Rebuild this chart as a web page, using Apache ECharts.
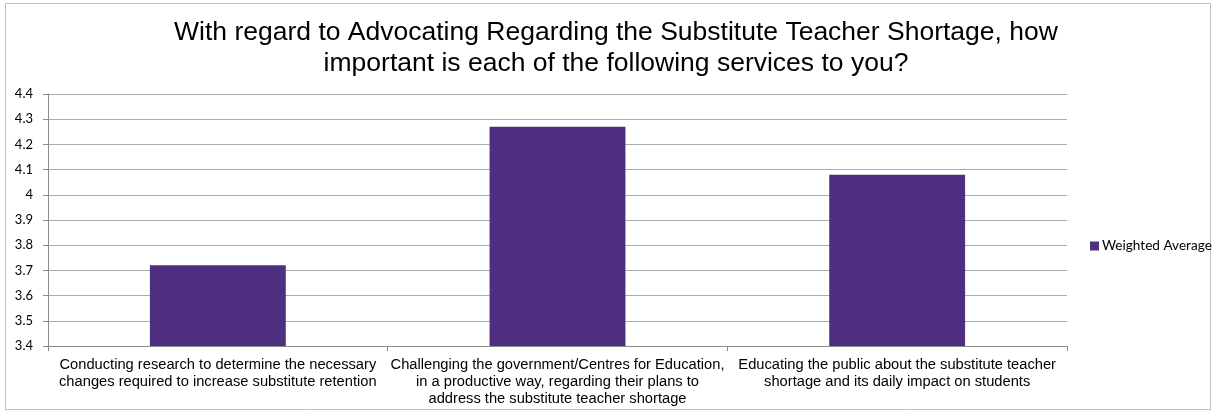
<!DOCTYPE html>
<html>
<head>
<meta charset="utf-8">
<script src="https://cdn.jsdelivr.net/npm/echarts@6/dist/echarts.min.js"></script>
<style>
  html, body { margin: 0; padding: 0; background: #fff; }
  #chart { width: 1213px; height: 412px; }
</style>
</head>
<body>
<div id="chart"></div>
<script>
const chartTitle = 'With regard to Advocating Regarding the Substitute Teacher Shortage, how\nimportant is each of the following services to you?';
const categories = [
  'Conducting research to determine the necessary\nchanges required to increase substitute retention',
  'Challenging the government/Centres for Education,\nin a productive way, regarding their plans to\naddress the substitute teacher shortage',
  'Educating the public about the substitute teacher\nshortage and its daily impact on students'
];
const seriesName = 'Weighted Average';
const weightedAverage = [3.72, 4.27, 4.08];
const yMin = 3.4, yMax = 4.4, yStep = 0.1;

const chart = echarts.init(document.getElementById('chart'), null, { renderer: 'canvas' });
chart.setOption({
  backgroundColor: '#ffffff',
  animation: false,
  title: {
    text: chartTitle,
    left: 611,
    textAlign: 'center',
    top: 12,
    textStyle: {
      fontFamily: 'Liberation Sans, Arial, sans-serif',
      fontSize: 26.5,
      fontWeight: 'normal',
      color: '#000000',
      lineHeight: 31
    }
  },
  graphic: [{
    type: 'rect',
    shape: { x: 5.5, y: 3.5, width: 1205, height: 406 },
    style: { fill: 'none', stroke: '#bfbfbf', lineWidth: 1 },
    silent: true
  }],
  legend: {
    data: [seriesName],
    left: 1090,
    top: 239,
    padding: 0,
    itemWidth: 9,
    itemHeight: 9,
    itemGap: 4,
    icon: 'rect',
    textStyle: {
      fontFamily: 'Lato, Carlito, sans-serif',
      fontSize: 13.6,
      color: '#000000',
      padding: [0, 0, 0, -2]
    }
  },
  grid: { left: 48, right: 146, top: 94, bottom: 66, containLabel: false },
  xAxis: {
    type: 'category',
    data: categories,
    axisLine: { lineStyle: { color: '#8c8c8c', width: 1 } },
    axisTick: { show: true, length: 5, lineStyle: { color: '#8c8c8c' } },
    axisLabel: {
      interval: 0,
      margin: 10,
      fontFamily: 'Liberation Sans, Arial, sans-serif',
      fontSize: 14.7,
      lineHeight: 17,
      color: '#000000',
      align: 'center'
    }
  },
  yAxis: {
    type: 'value',
    min: yMin,
    max: yMax,
    interval: yStep,
    axisLine: { show: true, lineStyle: { color: '#8c8c8c', width: 1 } },
    axisTick: { show: true, length: 5, lineStyle: { color: '#8c8c8c' } },
    splitLine: { show: true, lineStyle: { color: '#ababab', width: 1 } },
    axisLabel: {
      margin: 15,
      fontFamily: 'Lato, Carlito, sans-serif',
      fontSize: 13,
      color: '#000000',
      formatter: v => String(+v.toFixed(1))
    }
  },
  series: [{
    name: seriesName,
    type: 'bar',
    data: weightedAverage,
    barCategoryGap: '60%',
    itemStyle: { color: '#4e2e7f' }
  }]
});
</script>
</body>
</html>
